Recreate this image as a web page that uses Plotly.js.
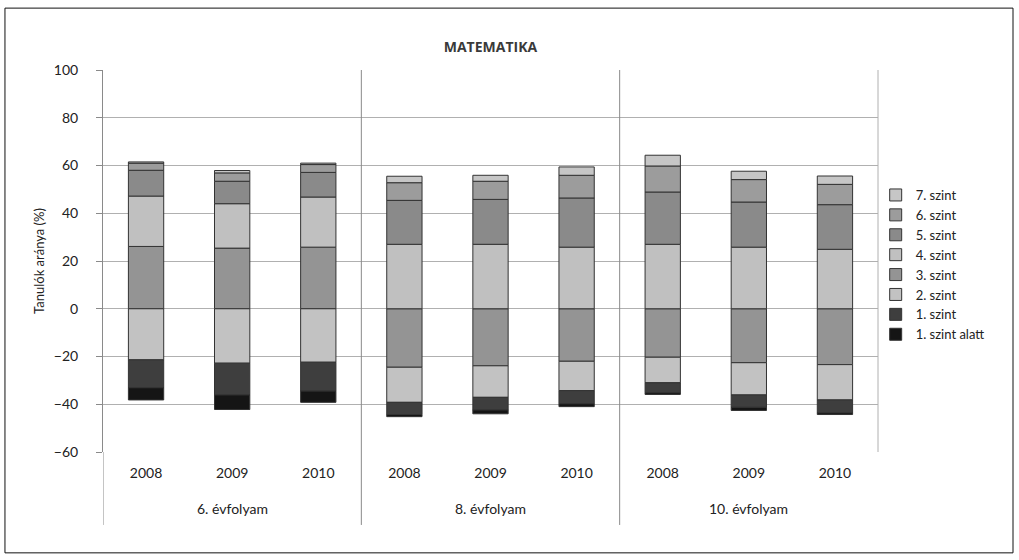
<!DOCTYPE html>
<html>
<head>
<meta charset="utf-8">
<script src="https://cdn.plot.ly/plotly-3.0.1.min.js"></script>
<style>html,body{margin:0;padding:0;background:#fff;}#chart{width:1019px;height:560px;}</style>
</head>
<body>
<div id="chart"></div>
<script>
const grades = ['6. évfolyam', '8. évfolyam', '10. évfolyam'];
const years = ['2008', '2009', '2010'];

const szint7 = [0.5, 1.0, 0.6, 2.7, 2.5, 3.5, 4.5, 3.5, 3.5];
const szint6 = [3.0, 3.5, 3.3, 7.4, 7.6, 9.5, 10.9, 9.4, 8.5];
const szint5 = [10.8, 9.4, 10.3, 18.4, 18.8, 20.6, 21.9, 18.9, 18.7];
const szint4 = [21.1, 18.6, 21.0, 27.0, 27.0, 25.8, 27.0, 25.8, 24.9];
const szint3 = [26.1, 25.4, 25.8, -24.5, -23.9, -22.0, -20.3, -22.6, -23.4];
const szint2 = [-21.4, -22.8, -22.4, -14.7, -13.2, -12.3, -10.7, -13.5, -14.8];
const szint1 = [-11.7, -13.3, -12.1, -5.1, -5.3, -5.5, -4.2, -5.2, -5.4];
const szintAlatt = [-5.1, -6.1, -4.7, -0.9, -1.6, -1.2, -0.7, -1.3, -0.7];

const seriesNames = ['7. szint', '6. szint', '5. szint', '4. szint', '3. szint', '2. szint', '1. szint', '1. szint alatt'];

// category slots: one per (grade, year)
const slotGrade = [], slotYear = [];
grades.forEach(g => years.forEach(y => { slotGrade.push(g); slotYear.push(y); }));
const slotIndex = slotYear.map((_, i) => i);

const colors = {
  '7. szint': '#c6c6c6',
  '6. szint': '#9c9c9c',
  '5. szint': '#8a8a8a',
  '4. szint': '#c0c0c0',
  '3. szint': '#949494',
  '2. szint': '#c2c2c2',
  '1. szint': '#3e3e3e',
  '1. szint alatt': '#151515'
};
const valuesByName = {
  '7. szint': szint7, '6. szint': szint6, '5. szint': szint5, '4. szint': szint4,
  '3. szint': szint3, '2. szint': szint2, '1. szint': szint1, '1. szint alatt': szintAlatt
};
// stacking order: closest to zero first on both sides of the axis
const stackOrder = ['3. szint', '2. szint', '1. szint', '1. szint alatt', '4. szint', '5. szint', '6. szint', '7. szint'];

const traces = stackOrder.map(name => ({
  type: 'bar',
  name: name,
  x: slotIndex,
  y: valuesByName[name],
  legendrank: seriesNames.indexOf(name) + 1,
  marker: { color: colors[name], line: { color: '#333333', width: 1 } },
  hoverinfo: 'skip'
}));

const lineGray = '#8a8a8a';
const shapes = [];
// group dividers across plot and label area
grades.forEach((g, gi) => {
  const xb = gi * years.length - 0.5;
  shapes.push({ type: 'line', xref: 'x', yref: 'paper', x0: xb, x1: xb,
                y0: gi === 0 ? -0.191 : -0.191, y1: gi === 0 ? 0 : 1, line: { color: lineGray, width: 1 } });
});
shapes.push({ type: 'line', xref: 'paper', yref: 'paper', x0: 1, x1: 1, y0: 0, y1: 1, line: { color: '#b0b0b0', width: 1 } });
shapes.push({ type: 'rect', xref: 'paper', yref: 'paper', x0: -0.1265, x1: 1.1742, y0: -0.264, y1: 1.162,
              line: { color: '#111', width: 1 }, fillcolor: 'rgba(0,0,0,0)', layer: 'below' });

const annotations = grades.map((g, gi) => ({
  text: g, xref: 'x', yref: 'paper', x: gi * years.length + (years.length - 1) / 2, y: -0.149,
  xanchor: 'center', yanchor: 'middle', showarrow: false, font: { size: 14, color: '#222' }
}));

const layout = {
  width: 1019, height: 560,
  margin: { l: 103, r: 141, t: 70, b: 108 },
  paper_bgcolor: '#ffffff', plot_bgcolor: '#ffffff',
  font: { family: 'Lato, "Open Sans", sans-serif', size: 13, color: '#222' },
  title: { text: '<b>MATEMATIKA</b>', x: 0.4813, xanchor: 'center', y: 0.916, yanchor: 'middle',
           font: { family: '"Open Sans", Lato, sans-serif', size: 14, color: '#3a3a3a' } },
  barmode: 'relative',
  bargap: 0.59,
  showlegend: true,
  legend: { x: 0.997, xanchor: 'left', y: 0.712, yanchor: 'top', traceorder: 'normal',
            font: { size: 13, color: '#222' }, tracegroupgap: 0, itemwidth: 30, bgcolor: 'rgba(0,0,0,0)' },
  xaxis: {
    range: [-0.5, slotIndex.length - 0.5],
    tickvals: slotIndex, ticktext: slotYear,
    showline: false, ticks: '', showgrid: false, zeroline: false,
    ticklabelstandoff: 11,
    tickfont: { size: 14, color: '#222' }
  },
  yaxis: {
    range: [-60, 100], tickvals: [-60, -40, -20, 0, 20, 40, 60, 80, 100],
    ticktext: ['−60', '−40', '−20', '0', '20', '40', '60', '80', '100'],
    showgrid: true, gridcolor: '#b0b0b0', gridwidth: 1,
    zeroline: false,
    showline: true, linecolor: lineGray, linewidth: 1,
    ticks: 'outside', ticklen: 6, tickcolor: lineGray,
    ticklabelstandoff: 15,
    tickfont: { size: 14, color: '#222' },
    title: { text: 'Tanulók aránya (%)', font: { size: 13, color: '#222' }, standoff: 6 }
  },
  shapes: shapes,
  annotations: annotations
};

Plotly.newPlot('chart', traces, layout, { displayModeBar: false, staticPlot: true });
</script>
</body>
</html>
